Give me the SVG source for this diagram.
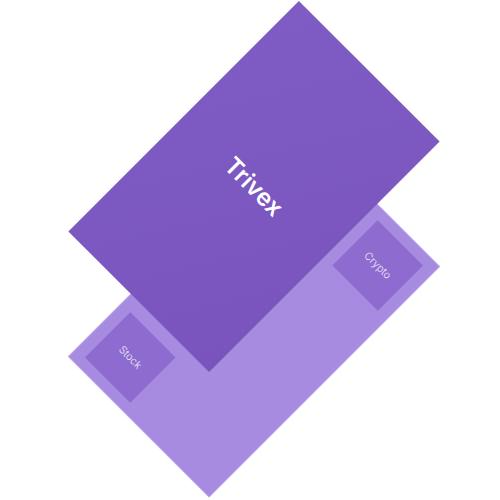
<svg xmlns="http://www.w3.org/2000/svg" width="500" height="500" viewBox="0 0 500 500">
  <style>
    .base { fill: #a78be0; stroke: #bba6ee; stroke-width: 1; }
    .tile { fill: #8d6bcf; }
    .title { font-family: Inter, "Liberation Sans", Arial, sans-serif; font-size: 24px; font-weight: 600; fill: #ffffff; }
    .label { font-family: Inter, "Liberation Sans", Arial, sans-serif; font-size: 10.5px; font-weight: 300; fill: #f1ecfc; }
  </style>
  <defs>
    <linearGradient id="gTop" x1="0" y1="0" x2="1" y2="1">
      <stop offset="0" stop-color="#7f5cc4"/>
      <stop offset="1" stop-color="#7954bd"/>
    </linearGradient>
  </defs>
  <g id="base" transform="translate(254,311.5) rotate(45)">
    <rect class="base" x="-99.5" y="-163" width="199" height="326"/>
  </g>
  <g id="crypto" transform="translate(254,311.5) rotate(45)">
    <rect class="tile" x="23" y="-152" width="64" height="64"/>
    <text class="label" x="55" y="-120" text-anchor="middle" dominant-baseline="central">Crypto</text>
  </g>
  <g id="stock" transform="translate(254,311.5) rotate(45)">
    <rect class="tile" x="-87" y="88" width="64" height="64"/>
    <text class="label" x="-55" y="120" text-anchor="middle" dominant-baseline="central">Stock</text>
  </g>
  <g id="trivex" transform="translate(254,186.5) rotate(45)">
    <rect x="-99.5" y="-163" width="199" height="326" style="fill:url(#gTop)"/>
    <text class="title" x="0" y="0" text-anchor="middle" dominant-baseline="central">Trivex</text>
  </g>
  <g id="connectors"/>
</svg>
